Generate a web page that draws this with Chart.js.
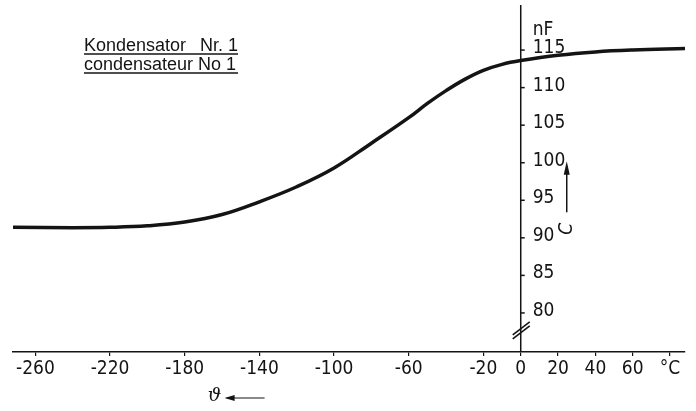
<!DOCTYPE html>
<html>
<head>
<meta charset="utf-8">
<script src="https://cdn.jsdelivr.net/npm/chart.js@4"></script>
<style>
  body { margin: 0; background: #fff; }
  canvas { display: block; }
</style>
</head>
<body>
<canvas id="cap" width="696" height="411"></canvas>
<script>
// temperature in °C, capacitance in nF
const temps = [-272, -240, -220, -200, -180, -160, -140, -120, -100, -80, -60, -50, -40, -30, -20, -10, 0, 20, 40, 60, 88]
const caps = [91.4, 91.35, 91.4, 91.6, 92.1, 93.1, 94.8, 96.8, 99.3, 102.6, 106.0, 107.9, 109.6, 111.1, 112.3, 113.1, 113.6, 114.3, 114.75, 115.0, 115.2]

const xTicks = [-260, -220, -180, -140, -100, -60, -20, 0, 20, 40, 60, 80]
const xTickLabels = ['-260', '-220', '-180', '-140', '-100', '-60', '-20', '0', '20', '40', '60', '°C']
const yTicks = [80, 85, 90, 95, 100, 105, 110, 115]
const yUnit = 'nF'
const titleLines = ['Kondensator', 'Nr. 1', 'condensateur No 1']

const ink = '#141414'
const tickFont = '19px "Liberation Sans Narrow", "DejaVu Sans Condensed", sans-serif'

// y axis sits at 0 °C, labels to its right - drawn by hand from the scales
const axisPlugin = {
    id: 'axisPlugin',
    afterDraw(chart) {
        const ctx = chart.ctx
        const xs = chart.scales.x
        const ys = chart.scales.y
        const area = chart.chartArea
        const x0 = xs.getPixelForValue(0)

        ctx.save()
        ctx.strokeStyle = ink
        ctx.fillStyle = ink
        ctx.lineWidth = 1.5
        ctx.beginPath()
        ctx.moveTo(x0, area.top)
        ctx.lineTo(x0, area.bottom)
        ctx.stroke()

        ctx.font = tickFont
        ctx.textAlign = 'left'
        ctx.textBaseline = 'middle'
        yTicks.forEach(v => {
            const y = ys.getPixelForValue(v)
            ctx.beginPath()
            ctx.moveTo(x0, y)
            ctx.lineTo(x0 + 4, y)
            ctx.stroke()
            ctx.fillText(String(v), x0 + 12, y - 2)
        })
        ctx.fillText(yUnit, x0 + 12, ys.getPixelForValue(117.7))

        // axis break mark
        const yb = ys.getPixelForValue(77.6)
        ctx.lineWidth = 1.6
        ;[-2, 2].forEach(d => {
            ctx.beginPath()
            ctx.moveTo(x0 - 8, yb + 6 + d)
            ctx.lineTo(x0 + 9, yb - 7 + d)
            ctx.stroke()
        })

        // C with arrow
        const xc = x0 + 46
        ctx.lineWidth = 1.5
        ctx.beginPath()
        ctx.moveTo(xc, ys.getPixelForValue(93.4))
        ctx.lineTo(xc, ys.getPixelForValue(98.6))
        ctx.stroke()
        ctx.beginPath()
        ctx.moveTo(xc, ys.getPixelForValue(100.2))
        ctx.lineTo(xc - 3, ys.getPixelForValue(98.4))
        ctx.lineTo(xc + 3, ys.getPixelForValue(98.4))
        ctx.closePath()
        ctx.fill()
        ctx.save()
        ctx.translate(xc, ys.getPixelForValue(91.2))
        ctx.rotate(-Math.PI / 2)
        ctx.textAlign = 'center'
        ctx.font = 'italic 19px "Liberation Sans Narrow", "DejaVu Sans Condensed", sans-serif'
        ctx.fillText('C', 0, 0)
        ctx.restore()

        // theta with arrow below the x axis
        const yt = 398
        const xt = xs.getPixelForValue(-164)
        ctx.font = 'italic 19px "DejaVu Serif", serif'
        ctx.textAlign = 'center'
        ctx.fillText('ϑ', xt, yt - 2)
        ctx.lineWidth = 1.2
        ctx.beginPath()
        ctx.moveTo(xt + 12, yt)
        ctx.lineTo(xt + 50, yt)
        ctx.stroke()
        ctx.beginPath()
        ctx.moveTo(xt + 10, yt)
        ctx.lineTo(xt + 20, yt - 3)
        ctx.lineTo(xt + 20, yt + 3)
        ctx.closePath()
        ctx.fill()

        // title, underlined
        ctx.font = '18px "Liberation Sans", sans-serif'
        ctx.textBaseline = 'alphabetic'
        ctx.textAlign = 'left'
        ctx.fillText(titleLines[0], 84, 51)
        ctx.textAlign = 'right'
        ctx.fillText(titleLines[1], 238, 51)
        ctx.textAlign = 'left'
        ctx.fillText(titleLines[2], 84, 70)
        ctx.lineWidth = 1.5
        ;[54, 73].forEach(y => {
            ctx.beginPath()
            ctx.moveTo(84, y)
            ctx.lineTo(238, y)
            ctx.stroke()
        })
        ctx.restore()
    }
}

const ctx = document.getElementById('cap').getContext('2d')
const chart = new Chart(ctx, {
    type: 'line',
    data: {
        datasets: [{
            data: temps.map((t, i) => ({ x: t, y: caps[i] })),
            borderColor: ink,
            borderWidth: 3.5,
            pointRadius: 0,
            fill: false,
            tension: 0.4
        }]
    },
    options: {
        responsive: false,
        animation: false,
        layout: { padding: { left: 13, right: 11, top: 5, bottom: 0 } },
        plugins: {
            legend: { display: false },
            tooltip: { enabled: false }
        },
        scales: {
            x: {
                type: 'linear',
                position: 'bottom',
                min: -272,
                max: 88,
                afterBuildTicks: scale => { scale.ticks = xTicks.map(v => ({ value: v })) },
                afterFit: scale => { scale.height = 59 },
                border: { display: true, color: ink, width: 1.5 },
                grid: { drawOnChartArea: false, drawTicks: true, tickLength: 4, color: ink, lineWidth: 1.2 },
                ticks: {
                    color: ink,
                    padding: 2,
                    maxRotation: 0,
                    autoSkip: false,
                    font: { family: '"Liberation Sans Narrow", "DejaVu Sans Condensed", sans-serif', size: 19 },
                    callback: (v, i) => xTickLabels[i]
                }
            },
            y: {
                type: 'linear',
                display: false,
                min: 74.8,
                max: 121
            }
        }
    },
    plugins: [axisPlugin]
})
</script>
</body>
</html>
